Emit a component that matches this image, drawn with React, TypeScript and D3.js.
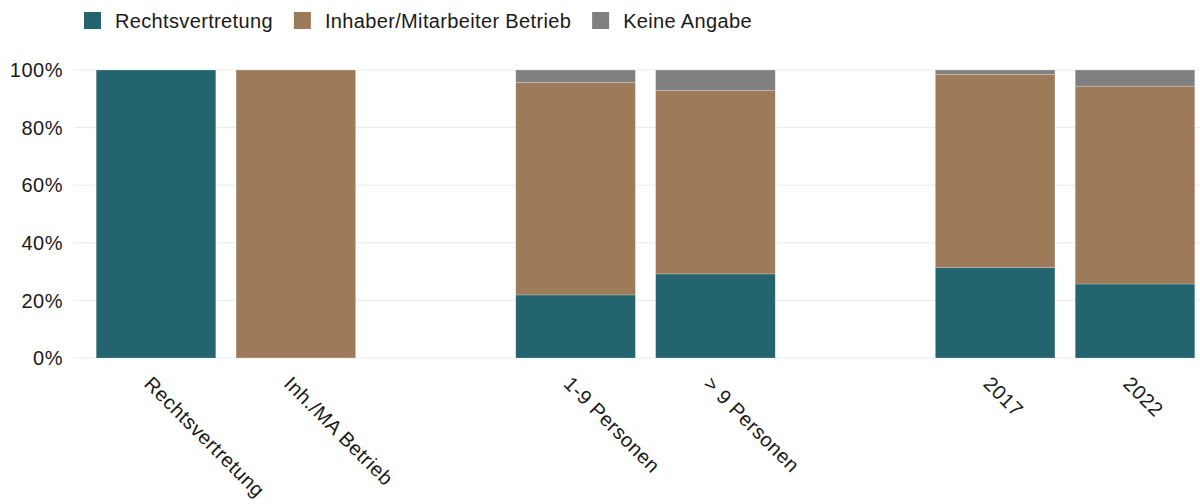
import React, { useMemo } from "react";
import * as d3 from "d3";

const categories = ["Rechtsvertretung", "Inh./MA Betrieb", "gap1", "1-9 Personen", "> 9 Personen", "gap2", "2017", "2022"];
const seriesNames = ["Rechtsvertretung", "Inhaber/Mitarbeiter Betrieb", "Keine Angabe"];
const rechtsvertretung = [100, 0, null, 21.9, 29.2, null, 31.4, 25.7];
const inhaberBetrieb = [0, 100, null, 73.8, 63.7, null, 67.1, 68.7];
const keineAngabe = [0, 0, null, 4.3, 7.1, null, 1.5, 5.6];
const yTicks = [0, 20, 40, 60, 80, 100];
const colors = ["#24646E", "#9D7B5A", "#808080"];

const W = 1200;
const H = 504;
const FONT = "'Liberation Sans', Arial, Helvetica, sans-serif";
const FS = 20;
const LS = 0.5;
const LEG_LS = 0.35;

function measure(text: string): number {
  const c = document.createElement("canvas").getContext("2d");
  if (!c) return text.length * FS * 0.55;
  c.font = `${FS}px ${FONT}`;
  return c.measureText(text).width + LEG_LS * text.length;
}

export default function App() {
  const x = d3.scalePoint<string>().domain(categories).range([156, 1135]);
  const step = x.step();
  const barW = step * 0.855;
  const y = d3.scaleLinear().domain([0, 100]).range([358, 70]);

  const rows = categories.map((c, i) => ({
    cat: c,
    r: rechtsvertretung[i],
    ib: inhaberBetrieb[i],
    k: keineAngabe[i],
  }));
  const valid = rows.filter((d) => d.r !== null);
  const stack = d3.stack<any>().keys(["r", "ib", "k"])(valid as any);

  const legend = useMemo(() => {
    let cx = 84;
    return seriesNames.map((n, i) => {
      const item = { name: n, x: cx, color: colors[i] };
      cx += 17 + 14 + measure(n) + 21;
      return item;
    });
  }, []);

  return (
    <svg width={W} height={H} style={{ display: "block", position: "absolute", left: 0, top: 0 }} fontFamily={FONT}>
      <rect width={W} height={H} fill="#ffffff" />
      {yTicks.map((t) => (
        <g key={t}>
          <line x1={74} x2={1200} y1={y(t)} y2={y(t)} stroke="#ebebeb" strokeWidth={1} />
          <text x={63} y={y(t)} dy="0.36em" textAnchor="end" fontSize={FS} letterSpacing={LS} fill="#1a1a1a">
            {t}%
          </text>
        </g>
      ))}
      {stack.map((layer, li) => (
        <g key={li} fill={colors[li]}>
          {layer.map((d: any, j: number) => {
            const h = y(d[0]) - y(d[1]);
            if (h <= 0) return null;
            return (
              <rect
                key={j}
                x={(x(d.data.cat) as number) - barW / 2}
                y={y(d[1])}
                width={barW}
                height={h}
                stroke="#ffffff"
                strokeOpacity={0.35}
                strokeWidth={0.6}
              />
            );
          })}
        </g>
      ))}
      {categories.map((c) =>
        c.startsWith("gap") ? null : (
          <text
            key={c}
            transform={`translate(${(x(c) as number) - 13},385) rotate(45)`}
            fontSize={FS}
            letterSpacing={LS}
            fill="#1a1a1a"
          >
            {c}
          </text>
        )
      )}
      {legend.map((l) => (
        <g key={l.name}>
          <rect x={l.x} y={12} width={17} height={17} fill={l.color} />
          <text x={l.x + 31} y={28.3} fontSize={FS} letterSpacing={LEG_LS} fill="#1a1a1a">
            {l.name}
          </text>
        </g>
      ))}
    </svg>
  );
}
